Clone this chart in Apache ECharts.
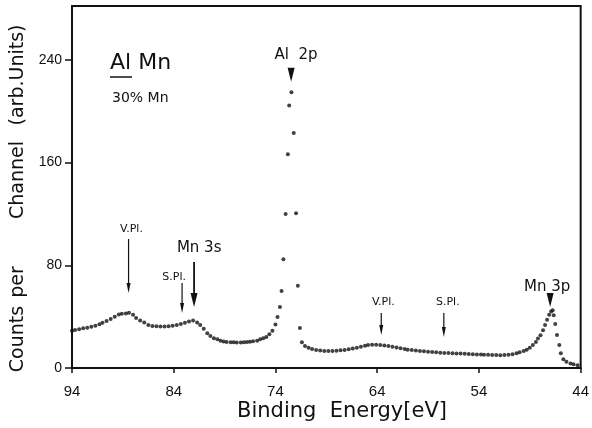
<!DOCTYPE html>
<html>
<head>
<meta charset="utf-8">
<script src="https://cdn.jsdelivr.net/npm/echarts@6/dist/echarts.min.js"></script>
<style>
  html, body { margin: 0; padding: 0; background: #fff; }
  #chart { width: 592px; height: 428px; }
</style>
</head>
<body>
<div id="chart"></div>
<script>
// XPS spectrum of Al-Mn (30% Mn): counts per channel vs binding energy
const energy = [
  94.0, 93.7, 93.3, 92.9, 92.5, 92.1, 91.7, 91.3, 91.0, 90.6, 90.2, 89.8, 89.4, 89.1, 88.7, 88.4,
  88.0, 87.7, 87.3, 86.9, 86.5, 86.1, 85.7, 85.3, 84.9, 84.5, 84.1, 83.7, 83.3, 82.9, 82.5, 82.1,
  81.7, 81.4, 81.05, 80.7, 80.4, 80.05, 79.7, 79.4, 79.1, 78.8, 78.4, 78.1, 77.8, 77.4, 77.1, 76.8,
  76.5, 76.2, 75.8, 75.5, 75.2, 74.9, 74.6, 74.3, 74.0, 73.8, 73.56, 73.4, 73.22, 73.0, 72.78, 72.65,
  72.43, 72.2, 71.98, 71.8, 71.6, 71.4, 71.1, 70.75, 70.4, 70.0, 69.6, 69.2, 68.8, 68.4, 68.0, 67.6,
  67.2, 66.8, 66.4, 66.0, 65.6, 65.2, 64.9, 64.5, 64.1, 63.7, 63.3, 62.9, 62.5, 62.1, 61.7, 61.3,
  61.0, 60.6, 60.2, 59.8, 59.4, 59.0, 58.6, 58.2, 57.8, 57.4, 57.0, 56.6, 56.2, 55.8, 55.4, 55.0,
  54.6, 54.2, 53.8, 53.5, 53.1, 52.7, 52.3, 51.9, 51.5, 51.1, 50.7, 50.3, 50.0, 49.6, 49.3, 49.0,
  48.7, 48.4, 48.2, 47.95, 47.7, 47.5, 47.3, 47.1, 46.9, 46.75, 46.65, 46.5, 46.33, 46.1, 45.95, 45.7,
  45.4, 45.0, 44.7, 44.3
];
const counts = [
  29.1, 29.6, 30.1, 30.9, 31.4, 32.2, 33.0, 34.0, 35.3, 36.6, 38.2, 40.0, 41.6, 42.3, 42.5, 43.1,
  41.5, 39.0, 37.0, 35.5, 33.5, 32.8, 32.5, 32.4, 32.4, 32.6, 33.0, 33.5, 34.3, 35.3, 36.3, 37.0,
  35.5, 33.5, 30.5, 27.0, 25.0, 23.1, 22.3, 21.3, 20.6, 20.3, 20.0, 20.0, 19.9, 19.9, 20.0, 20.2,
  20.5, 20.8, 21.3, 22.3, 23.1, 24.2, 26.3, 29.0, 33.8, 39.8, 47.5, 60.0, 84.7, 120.0, 166.5, 204.4,
  214.8, 183.0, 120.6, 64.0, 31.2, 20.0, 17.2, 15.8, 14.8, 14.0, 13.6, 13.3, 13.2, 13.3, 13.5, 13.8,
  14.1, 14.6, 15.1, 15.8, 16.5, 17.3, 17.9, 18.2, 18.2, 17.9, 17.6, 17.1, 16.6, 15.9, 15.3, 14.8,
  14.3, 14.0, 13.6, 13.2, 13.0, 12.7, 12.5, 12.2, 11.9, 11.7, 11.6, 11.4, 11.3, 11.2, 11.1, 10.9,
  10.8, 10.6, 10.5, 10.4, 10.3, 10.2, 10.1, 10.0, 10.1, 10.4, 10.8, 11.4, 12.2, 13.2, 14.3, 15.8,
  17.9, 20.2, 23.0, 25.5, 29.4, 33.5, 37.6, 41.5, 44.0, 45.0, 41.0, 34.3, 25.7, 17.9, 11.4, 6.8,
  4.9, 3.6, 2.9, 2.2
];

// Axis ticks
const energyTicks = [44, 54, 64, 74, 84, 94];
const countTicks = [0, 80, 160, 240];

// Peak / plasmon annotations (data coordinates)
const noteText = ['V.Pl.', 'S.Pl.', 'Mn 3s', 'V.Pl.', 'S.Pl.', 'Al  2p', 'Mn 3p'];
const noteKind = ['thin', 'thin', 'bold', 'thin', 'thin', 'peak', 'peak'];
const noteEnergy = [88.44, 83.18, 82.0, 63.6, 57.45, 72.46, 47.0];
const noteTail = [100.5, 66.2, 82.6, 42.9, 42.9, 233.8, 58.4];
const noteTip = [58.4, 42.9, 47.5, 25.7, 24.2, 222.9, 47.5];
const noteLabelEnergy = [88.15, 83.96, 81.5, 63.4, 57.06, 71.97, 47.3];
const noteLabelCounts = [108.3, 70.9, 93.1, 51.4, 51.4, 243.9, 63.1];

const INK = '#111';
const FONT = '"DejaVu Sans", sans-serif';
const TICK_FONT = '"Liberation Sans", Arial, sans-serif';

const noteStyle = {
  thin: { lw: 1.2, head: [4, 10], font: '11px ' + FONT },
  bold: { lw: 1.8, head: [7, 14], font: '15px ' + FONT },
  peak: { lw: 0, head: [7, 14], font: '15px ' + FONT }
};

function renderNote(params, api) {
  const i = params.dataIndex;
  const s = noteStyle[noteKind[i]];
  const tail = api.coord([api.value(0), api.value(1)]);
  const tip = api.coord([api.value(0), api.value(2)]);
  const lab = api.coord([api.value(3), api.value(4)]);
  const hw = s.head[0] / 2, hh = s.head[1];
  const children = [];
  if (s.lw > 0) {
    children.push({
      type: 'line',
      shape: { x1: tail[0], y1: tail[1], x2: tip[0], y2: tip[1] - hh + 1 },
      style: { stroke: INK, lineWidth: s.lw }
    });
  }
  const top = s.lw > 0 ? tip[1] - hh : tail[1];
  children.push({
    type: 'polygon',
    shape: { points: [[tip[0] - hw, top], [tip[0] + hw, top], [tip[0], tip[1]]] },
    style: { fill: INK }
  });
  children.push({
    type: 'text',
    x: lab[0], y: lab[1],
    style: { text: noteText[i], font: s.font, fill: INK, align: 'center', verticalAlign: 'middle' }
  });
  return { type: 'group', children: children };
}

const chart = echarts.init(document.getElementById('chart'), null, { renderer: 'canvas' });

chart.setOption({
  backgroundColor: '#fff',
  animation: false,
  grid: {
    left: 72, right: 7, top: 6, bottom: 60,
    show: true, borderColor: INK, borderWidth: 2, backgroundColor: 'transparent'
  },
  xAxis: {
    type: 'value',
    inverse: true,
    min: 44, max: 94, interval: 10,
    axisLine: { lineStyle: { color: INK, width: 2 } },
    axisTick: { inside: false, length: 5, lineStyle: { color: INK, width: 1.5 }, customValues: energyTicks },
    axisLabel: { color: INK, fontSize: 15, fontFamily: TICK_FONT, margin: 16, customValues: energyTicks },
    splitLine: { show: false }
  },
  yAxis: {
    type: 'value',
    min: 0, max: 282, interval: 80,
    axisLine: { lineStyle: { color: INK, width: 2 } },
    axisTick: { inside: false, length: 7, lineStyle: { color: INK, width: 1.5 }, customValues: countTicks },
    axisLabel: { color: INK, fontSize: 14, fontFamily: TICK_FONT, margin: 10, customValues: countTicks },
    splitLine: { show: false }
  },
  series: [
    {
      type: 'scatter',
      data: energy.map((e, i) => [e, counts[i]]),
      symbol: 'circle',
      symbolSize: 4,
      itemStyle: { color: INK },
      silent: true
    },
    {
      type: 'custom',
      renderItem: renderNote,
      data: noteText.map((t, i) => [noteEnergy[i], noteTail[i], noteTip[i], noteLabelEnergy[i], noteLabelCounts[i]]),
      silent: true,
      z: 5
    }
  ],
  graphic: [
    // sample label
    { type: 'text', x: 110, y: 63, style: { text: 'Al Mn', font: '22px ' + FONT, fill: INK, align: 'left', verticalAlign: 'middle' } },
    { type: 'line', shape: { x1: 110, y1: 77, x2: 132, y2: 77 }, style: { stroke: INK, lineWidth: 1.5 } },
    { type: 'text', x: 112, y: 98.5, style: { text: '30% Mn', font: '14px ' + FONT, fill: INK, align: 'left', verticalAlign: 'middle' } },
    // y-axis title, word by word
    { type: 'text', x: 18, y: 339, rotation: Math.PI / 2, style: { text: 'Counts', font: '19px ' + FONT, fill: INK, align: 'center', verticalAlign: 'middle' } },
    { type: 'text', x: 18, y: 282, rotation: Math.PI / 2, style: { text: 'per', font: '19px ' + FONT, fill: INK, align: 'center', verticalAlign: 'middle' } },
    { type: 'text', x: 18, y: 180, rotation: Math.PI / 2, style: { text: 'Channel', font: '19px ' + FONT, fill: INK, align: 'center', verticalAlign: 'middle' } },
    { type: 'text', x: 18, y: 75, rotation: Math.PI / 2, style: { text: '(arb.Units)', font: '19px ' + FONT, fill: INK, align: 'center', verticalAlign: 'middle' } },
    // x-axis title
    { type: 'text', x: 342, y: 412, style: { text: 'Binding  Energy[eV]', font: '21px ' + FONT, fill: INK, align: 'center', verticalAlign: 'middle' } }
  ]
});
</script>
</body>
</html>
